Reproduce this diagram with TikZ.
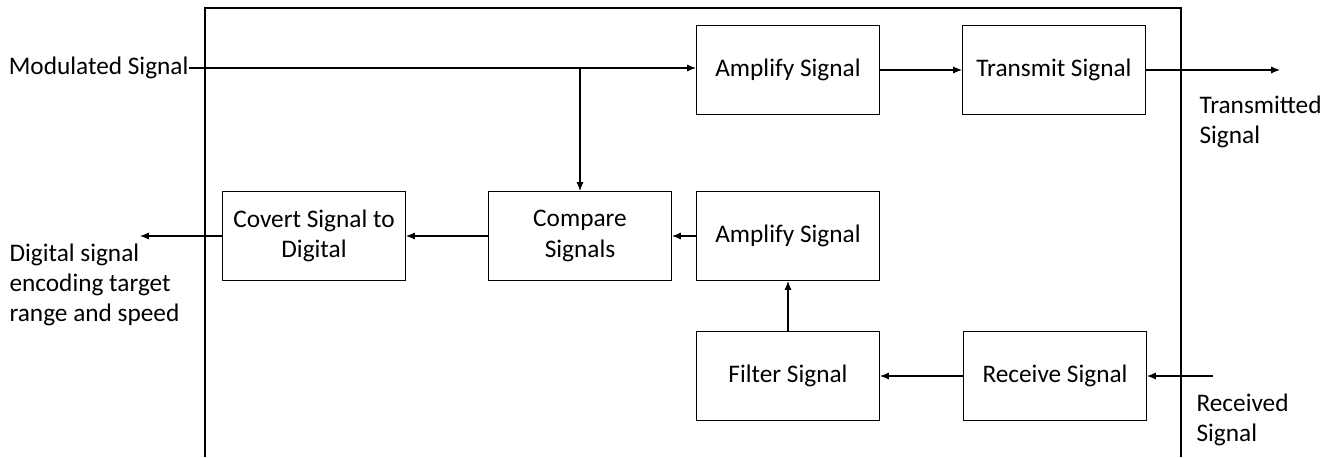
\documentclass[tikz,border=0pt]{standalone}
\usepackage{fontspec}
\setmainfont{Carlito}
\usetikzlibrary{arrows.meta}
\begin{document}
\begin{tikzpicture}[x=0.02cm, y=-0.02cm, line width=0.6pt,
    font=\fontsize{14.4}{17.2}\selectfont,
    block/.style={draw, minimum width=3.66cm, minimum height=1.78cm, align=center, inner sep=0pt},
    label/.style={align=left, inner sep=0pt},
    >={Latex[length=5pt,width=4pt]}]
      \useasboundingbox (0,0) rectangle (1334,457);
      % outer frame, open at the bottom
      \draw (205,457) -- (205,8) -- (1181,8) -- (1181,457);
      % blocks
      \node[block] (amptx) at (788,70) {Amplify Signal};
      \node[block] (tx) at (1054,70) {Transmit Signal};
      \node[block] (cmp) at (580,236) {Compare\\Signals};
      \node[block] (amprx) at (788,236) {Amplify Signal};
      \node[block] (cvt) at (314,236) {Covert Signal to\\Digital};
      \node[block] (flt) at (788,376) {Filter Signal};
      \node[block] (rx) at (1055,376) {Receive Signal};
      % inputs and outputs
      \node[label, anchor=east] (mod) at (189,68) {Modulated Signal};
      \node[label, anchor=north west] (txsig) at (1199,95) {Transmitted\\Signal};
      \node[label, anchor=north west] (rxsig) at (1196,393) {Received\\Signal};
      \node[label, anchor=north west] (dsig) at (9,243) {Digital signal\\encoding target\\range and speed};
      \coordinate (txout) at (1280,70);
      \coordinate (rxin) at (1213,376);
      \coordinate (dout) at (140,236);
      % connectors
      \draw[->] (mod.east) -- (amptx.west |- mod.east);
      \draw[->] (cmp.north |- mod.east) -- (cmp.north);
      \draw[->] (amptx.east) -- (tx.west);
      \draw[->] (tx.east) -- (txout);
      \draw[->] (rxin) -- (rx.east);
      \draw[->] (rx.west) -- (flt.east);
      \draw[->] (flt.north) -- (amprx.south);
      \draw[->] (amprx.west) -- (cmp.east);
      \draw[->] (cmp.west) -- (cvt.east);
      \draw[->] (cvt.west) -- (dout);
    \end{tikzpicture}
\end{document}
